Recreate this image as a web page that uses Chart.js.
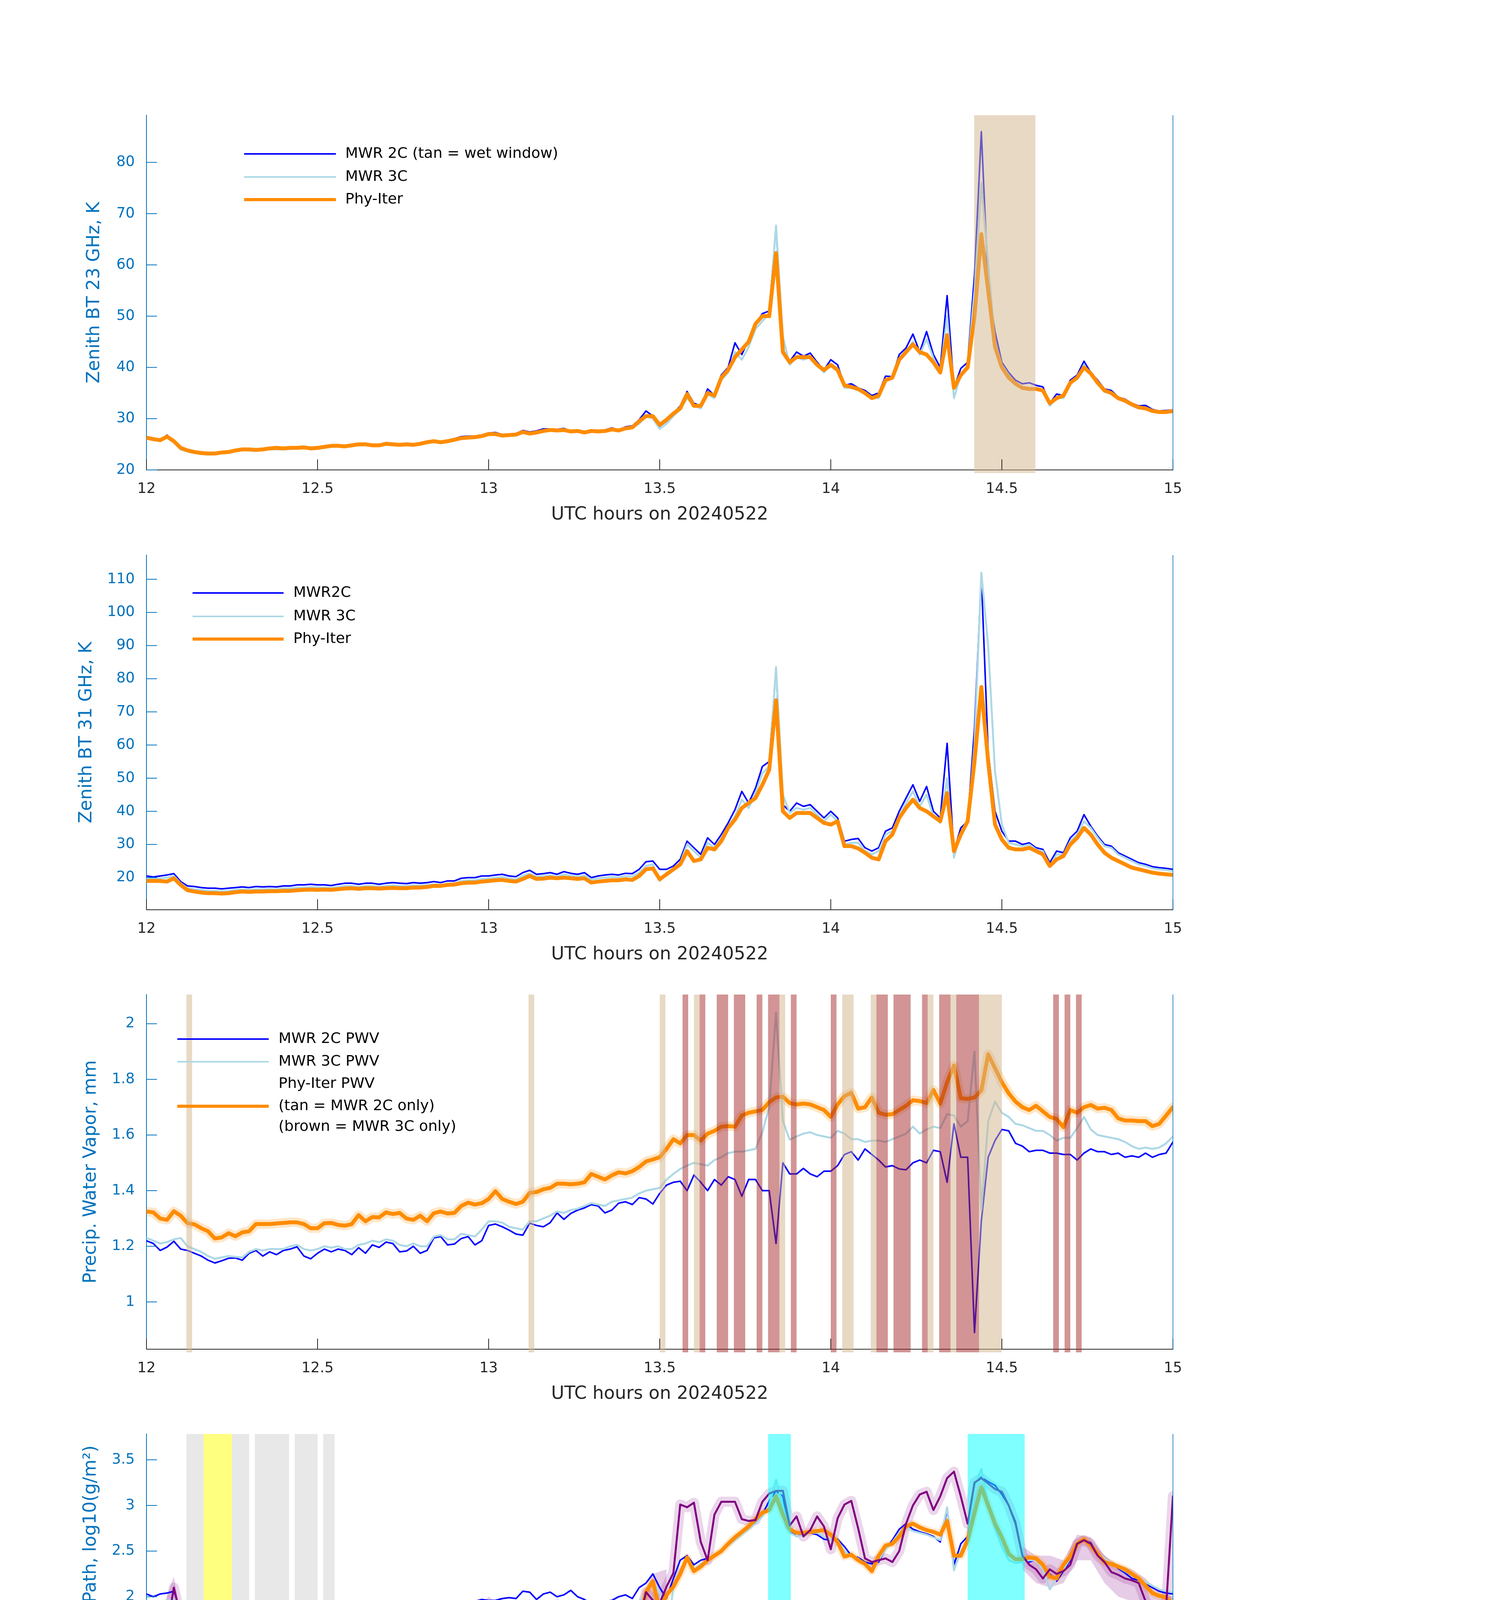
<!DOCTYPE html>
<html>
<head>
<meta charset="utf-8">
<title>MWR retrievals 20240522</title>
<script src="https://cdn.jsdelivr.net/npm/chart.js@4.4.1/dist/chart.umd.min.js"></script>
<style>
  html, body { margin: 0; padding: 0; background: #fff; }
  #page { position: relative; width: 3825px; height: 6000px; background: #fff; }
  #page canvas { position: absolute; left: 0; }
</style>
</head>
<body>
<div id="page">
  <canvas id="p1" width="3825" height="1125"></canvas>
  <canvas id="p2" width="3825" height="1125"></canvas>
  <canvas id="p3" width="3825" height="1125"></canvas>
  <canvas id="p4" width="3825" height="1125"></canvas>
  <canvas id="p5" width="3825" height="1125"></canvas>
</div>
<script>
(function () {
    'use strict';

    // ---------- data ----------
    // line series sampled every 0.02 h (72 s), 12:00 -> 15:00 UTC
    const hours = [];
    for (let i = 0; i <= 150; i++) hours.push(Math.round((12 + i * 0.02) * 100) / 100);
    // coarser grid for the uncertainty envelopes in the LWP panel
    const bandHours = [];
    for (let i = 0; i <= 75; i++) bandHours.push(Math.round((12 + i * 0.04) * 100) / 100);

    // zenith brightness temperature 23 GHz, K
    const bt23_2c = [
        26.5, 26.2, 25.8, 26.8, 25.6, 24.2, 23.8, 23.5, 23.3, 23.2,
        23.3, 23.5, 23.5, 23.8, 24.1, 24.0, 23.9, 24.1, 24.3, 24.3,
        24.2, 24.3, 24.4, 24.6, 24.2, 24.3, 24.6, 24.8, 24.8, 24.7,
        24.9, 25.1, 25.2, 24.9, 24.9, 25.3, 25.2, 25.0, 25.2, 25.0,
        25.3, 25.6, 25.8, 25.5, 25.8, 26.1, 26.5, 26.6, 26.6, 26.8,
        27.2, 27.3, 26.9, 27.0, 27.1, 27.7, 27.4, 27.6, 28.0, 28.0,
        27.9, 28.1, 27.6, 27.8, 27.5, 27.8, 27.7, 27.8, 28.2, 27.8,
        28.4, 28.6, 29.8, 31.5, 30.5, 28.5, 29.5, 31.0, 32.5, 35.3,
        33.0, 32.5, 35.8, 34.5, 38.5, 40.0, 44.8, 42.5, 45.5, 48.5,
        50.5, 51.0, 67.5, 43.5, 41.2, 43.0, 42.2, 42.8, 41.0, 39.5,
        41.5, 40.5, 36.5, 36.8, 36.0, 35.5, 34.5, 35.0, 38.3, 38.2,
        42.5, 43.8, 46.5, 43.0, 47.0, 42.5, 40.0, 54.0, 36.0, 39.8,
        41.0, 58.0, 86.0, 56.0, 47.0, 41.0, 39.0, 37.5, 36.8, 37.0,
        36.5, 36.2, 33.0, 34.8, 34.5, 37.5, 38.5, 41.2, 39.0, 37.5,
        35.8, 35.5, 34.2, 33.8, 33.0, 32.5, 32.6, 31.8, 31.5, 31.6,
        31.7
    ];
    const bt23_3c = [
        26.2, 26.0, 25.6, 26.5, 25.4, 24.0, 23.6, 23.3, 23.1, 23.0,
        23.1, 23.3, 23.3, 23.6, 23.9, 23.8, 23.7, 23.9, 24.0, 24.0,
        24.0, 24.1, 24.2, 24.3, 24.0, 24.1, 24.3, 24.5, 24.6, 24.5,
        24.6, 24.8, 24.9, 24.7, 24.7, 25.0, 24.9, 24.8, 25.0, 24.8,
        25.0, 25.3, 25.5, 25.2, 25.5, 25.8, 26.2, 26.3, 26.3, 26.5,
        26.9, 27.0, 26.6, 26.8, 26.8, 27.4, 27.1, 27.3, 27.6, 27.7,
        27.6, 27.8, 27.3, 27.5, 27.2, 27.5, 27.4, 27.5, 27.8, 27.6,
        28.0, 28.2, 29.0, 30.5, 30.0, 28.0, 29.0, 30.5, 31.8, 34.0,
        32.5, 32.0, 34.8, 34.0, 37.5, 39.0, 43.0, 41.5, 44.0, 47.5,
        49.0, 50.5, 67.7, 46.0, 40.5, 42.0, 41.5, 42.0, 40.5, 39.0,
        40.5, 39.8, 36.0, 36.0, 35.5, 35.0, 34.0, 34.0, 37.5, 37.8,
        41.8, 43.2, 45.0, 42.5, 45.5, 41.8, 39.0, 50.0, 34.0, 38.5,
        40.5, 55.0, 76.0, 60.0, 45.0, 40.5, 38.5, 37.0, 36.0, 35.8,
        35.6, 35.5, 32.5, 34.0, 34.0, 37.0, 38.0, 40.5, 38.5, 37.0,
        35.2, 35.0, 33.8, 33.3, 32.5, 32.0, 32.0, 31.4, 31.1, 31.2,
        31.3
    ];
    const bt23_phy = [
        26.3, 26.0, 25.8, 26.5, 25.6, 24.3, 23.8, 23.5, 23.3, 23.2,
        23.2, 23.4, 23.5, 23.8, 24.0, 24.0, 23.9, 24.0, 24.2, 24.3,
        24.2, 24.3, 24.3, 24.4, 24.2, 24.3, 24.5, 24.7, 24.7, 24.6,
        24.8, 25.0, 25.0, 24.8, 24.8, 25.1, 25.0, 24.9, 25.0, 24.9,
        25.1, 25.4, 25.6, 25.4, 25.6, 25.9, 26.2, 26.3, 26.4, 26.6,
        27.0, 27.0, 26.7, 26.8, 26.9, 27.4, 27.1, 27.3, 27.6, 27.8,
        27.7, 27.8, 27.5, 27.6, 27.3, 27.6, 27.5, 27.6, 27.9, 27.7,
        28.1, 28.3, 29.5, 30.5, 30.5, 28.8, 29.8, 31.0, 32.0, 34.8,
        32.5, 32.5, 35.0, 34.5, 38.0, 39.5, 42.0, 43.5, 45.0, 48.5,
        50.0, 50.0, 62.3, 43.0, 41.0, 42.0, 42.0, 42.0, 40.5, 39.5,
        40.5, 39.5, 36.5, 36.2, 35.8, 35.0, 34.0, 34.5, 37.5, 38.0,
        41.5, 43.0, 44.5, 43.0, 42.5, 41.0, 39.0, 46.3, 36.0, 38.5,
        40.0, 50.0, 66.0, 55.0, 44.0, 40.0, 38.0, 36.8, 36.0, 35.8,
        35.8, 35.5, 33.0, 34.0, 34.5, 37.0, 38.0, 40.0, 38.8, 37.0,
        35.5, 35.0, 34.0, 33.5, 32.8, 32.2, 32.0, 31.5, 31.3, 31.3,
        31.5
    ];

    // zenith brightness temperature 31 GHz, K
    const bt31_2c = [
        20.5, 20.2, 20.5, 20.8, 21.2, 18.8, 17.5, 17.3, 17.0, 16.8,
        16.8, 16.6, 16.8, 17.0, 17.2, 17.0, 17.3, 17.2, 17.3, 17.2,
        17.5, 17.5, 17.8, 17.8, 18.0, 17.8, 17.8, 17.6, 18.0, 18.3,
        18.3, 18.0, 18.3, 18.3, 18.0, 18.3, 18.5, 18.3, 18.2, 18.5,
        18.3, 18.5, 18.8, 18.5, 19.0, 19.0, 19.8, 20.0, 20.0, 20.5,
        20.5, 20.8, 21.0, 20.5, 20.3, 21.5, 22.2, 21.0, 21.2, 21.5,
        21.0, 21.8, 21.3, 21.0, 21.5, 20.0, 20.5, 20.8, 21.0, 20.8,
        21.3, 21.2, 22.5, 24.8, 25.0, 22.5, 22.5, 23.5, 25.5, 31.0,
        29.0, 27.0, 32.0, 30.0, 33.0, 36.5, 40.5, 46.0, 42.5, 47.0,
        53.5, 55.0, 83.0, 42.0, 40.0, 42.5, 41.5, 42.0, 40.0, 38.0,
        40.0, 38.0, 31.0, 31.5, 31.8, 29.0, 28.0, 29.0, 34.0, 35.0,
        40.0, 44.0, 48.0, 43.0, 47.5, 40.0, 38.0, 60.5, 28.0, 35.0,
        37.0, 65.0, 111.0, 58.0, 40.0, 34.0, 31.0, 31.0, 30.0, 30.5,
        29.0, 28.5, 24.5, 28.0, 27.5, 32.0, 34.0, 39.0, 35.5, 32.5,
        30.0, 29.5, 27.5, 26.5, 25.5, 24.5, 24.0, 23.3, 23.0, 22.8,
        22.5
    ];
    const bt31_3c = [
        19.8, 19.6, 19.8, 20.0, 20.5, 18.3, 16.8, 16.5, 16.3, 16.0,
        16.0, 15.9, 16.0, 16.3, 16.4, 16.3, 16.5, 16.5, 16.6, 16.5,
        16.8, 16.8, 17.0, 17.0, 17.2, 17.1, 17.0, 16.9, 17.2, 17.5,
        17.5, 17.2, 17.5, 17.5, 17.3, 17.5, 17.7, 17.5, 17.5, 17.7,
        17.6, 17.8, 18.0, 17.8, 18.2, 18.3, 19.0, 19.2, 19.2, 19.6,
        19.7, 20.0, 20.2, 19.8, 19.5, 20.6, 21.2, 20.3, 20.5, 20.7,
        20.3, 21.0, 20.6, 20.3, 20.7, 19.4, 19.8, 20.0, 20.2, 20.1,
        20.5, 20.4, 21.5, 23.5, 24.0, 19.0, 21.5, 22.5, 24.5, 30.0,
        28.0, 26.0, 30.5, 29.0, 32.0, 35.5, 38.5, 43.5, 41.0, 45.5,
        51.5, 53.5, 83.5, 45.0, 39.5, 41.0, 40.5, 41.0, 39.0, 37.0,
        39.0, 37.0, 30.0, 30.5, 30.5, 28.0, 27.0, 28.0, 33.0, 34.0,
        38.5, 42.5, 46.0, 41.5, 45.0, 38.5, 36.5, 50.0, 26.0, 33.5,
        36.5, 60.0, 112.0, 90.0, 52.0, 36.0, 30.5, 30.0, 29.5, 30.0,
        28.5, 28.0, 23.5, 27.0, 27.0, 31.0, 33.0, 37.0, 35.0, 32.0,
        29.5, 29.0, 27.0, 26.0, 25.0, 24.0, 23.5, 22.8, 22.5, 22.3,
        22.0
    ];
    const bt31_phy = [
        19.0, 19.0, 19.0, 18.8, 19.8, 17.8, 16.2, 15.8, 15.5, 15.3,
        15.3, 15.2, 15.3, 15.6, 15.8, 15.7, 15.8, 15.8, 15.9, 15.9,
        16.0, 16.0, 16.2, 16.3, 16.4, 16.3, 16.4, 16.3, 16.5, 16.7,
        16.8, 16.6, 16.8, 16.8, 16.7, 16.8, 16.9, 16.8, 16.8, 17.0,
        17.0, 17.2, 17.5, 17.5, 17.8, 17.9, 18.3, 18.5, 18.5, 18.8,
        19.0, 19.2, 19.3, 19.0, 18.8, 19.6, 20.5, 19.6, 19.7, 20.0,
        19.8, 20.0, 19.8, 19.6, 19.8, 18.5, 18.8, 19.0, 19.2, 19.2,
        19.5, 19.3, 20.5, 22.5, 22.8, 19.5, 21.0, 22.5, 24.0, 28.0,
        25.0, 25.5, 29.0, 28.5, 31.0, 35.0, 37.5, 41.0, 42.5, 44.0,
        48.0, 52.5, 73.5, 40.0, 38.0, 39.5, 39.5, 39.5, 38.0, 36.5,
        36.0, 37.0, 29.5, 29.5, 28.8, 27.5, 26.0, 25.5, 31.0, 33.0,
        38.0, 41.0, 43.5, 41.0, 40.0, 38.5, 37.0, 45.5, 28.0, 33.0,
        37.0, 55.0, 77.5, 55.0, 36.0, 31.5, 29.0, 28.5, 28.5, 29.0,
        28.0, 27.0, 23.5, 25.5, 26.5, 30.0, 32.0, 35.0, 33.0, 30.0,
        27.5, 26.0, 25.0, 24.0, 23.0, 22.5, 22.0, 21.5, 21.2, 21.0,
        20.8
    ];

    // precipitable water vapor, mm
    const pwv_2c = [
        1.22, 1.21, 1.185, 1.197, 1.218, 1.19, 1.185, 1.175, 1.165, 1.15,
        1.14, 1.148, 1.157, 1.158, 1.15, 1.175, 1.185, 1.165, 1.18, 1.17,
        1.185, 1.19, 1.198, 1.165, 1.155, 1.175, 1.19, 1.18, 1.19, 1.185,
        1.17, 1.195, 1.175, 1.205, 1.196, 1.215, 1.21, 1.18, 1.183, 1.20,
        1.175, 1.185, 1.23, 1.235, 1.205, 1.208, 1.228, 1.235, 1.205, 1.22,
        1.275, 1.28, 1.27, 1.258, 1.244, 1.24, 1.283, 1.275, 1.27, 1.285,
        1.32, 1.297, 1.318, 1.33, 1.338, 1.35, 1.345, 1.32, 1.33, 1.355,
        1.36, 1.35, 1.375, 1.37, 1.352, 1.39, 1.42, 1.43, 1.434, 1.40,
        1.456, 1.43, 1.40, 1.44, 1.42, 1.45, 1.44, 1.38, 1.44, 1.44,
        1.40, 1.40, 1.21, 1.50, 1.46, 1.46, 1.48, 1.46, 1.45, 1.47,
        1.47, 1.49, 1.53, 1.54, 1.51, 1.55, 1.53, 1.51, 1.485, 1.49,
        1.478, 1.475, 1.50, 1.51, 1.50, 1.545, 1.54, 1.43, 1.64, 1.52,
        1.52, 0.89, 1.29, 1.52, 1.58, 1.62, 1.615, 1.57, 1.56, 1.54,
        1.545, 1.545, 1.535, 1.535, 1.53, 1.53, 1.51, 1.535, 1.55, 1.54,
        1.54, 1.53, 1.535, 1.52, 1.525, 1.52, 1.535, 1.52, 1.53, 1.535,
        1.575
    ];
    const pwv_3c = [
        1.23, 1.22, 1.21, 1.215, 1.225, 1.23, 1.20, 1.19, 1.18, 1.165,
        1.155, 1.16, 1.165, 1.162, 1.16, 1.18, 1.19, 1.185, 1.19, 1.19,
        1.19, 1.20, 1.205, 1.19, 1.185, 1.19, 1.20, 1.195, 1.20, 1.19,
        1.19, 1.205, 1.21, 1.22, 1.215, 1.225, 1.22, 1.205, 1.20, 1.21,
        1.20, 1.20, 1.235, 1.24, 1.225, 1.225, 1.245, 1.24, 1.235, 1.26,
        1.29, 1.29, 1.285, 1.27, 1.265, 1.26, 1.29, 1.29, 1.30, 1.31,
        1.325, 1.32, 1.33, 1.335, 1.345, 1.355, 1.35, 1.345, 1.36, 1.365,
        1.37, 1.375, 1.39, 1.40, 1.405, 1.41, 1.44, 1.46, 1.478, 1.49,
        1.50, 1.495, 1.49, 1.51, 1.52, 1.535, 1.54, 1.54, 1.545, 1.55,
        1.61, 1.70, 2.04, 1.65, 1.583, 1.595, 1.605, 1.61, 1.60, 1.595,
        1.59, 1.615, 1.605, 1.585, 1.585, 1.575, 1.58, 1.58, 1.575, 1.585,
        1.595, 1.605, 1.63, 1.605, 1.62, 1.63, 1.625, 1.675, 1.67, 1.63,
        1.65, 1.90, 1.33, 1.65, 1.72, 1.68, 1.665, 1.64, 1.635, 1.625,
        1.615, 1.615, 1.60, 1.58, 1.59, 1.59, 1.625, 1.665, 1.62, 1.60,
        1.595, 1.59, 1.585, 1.575, 1.56, 1.55, 1.555, 1.55, 1.555, 1.57,
        1.595
    ];
    const pwv_phy = [
        1.325, 1.322, 1.30, 1.295, 1.326, 1.31, 1.283, 1.279, 1.265, 1.254,
        1.228, 1.232, 1.247, 1.236, 1.25, 1.254, 1.28, 1.28, 1.28, 1.282,
        1.284, 1.286, 1.286, 1.28, 1.265, 1.265, 1.283, 1.284, 1.277, 1.274,
        1.28, 1.312, 1.29, 1.305, 1.304, 1.322, 1.316, 1.32, 1.30, 1.295,
        1.31, 1.29, 1.319, 1.325, 1.318, 1.32, 1.345, 1.357, 1.35, 1.355,
        1.37, 1.398, 1.37, 1.36, 1.352, 1.36, 1.392, 1.395, 1.405, 1.41,
        1.425, 1.425, 1.423, 1.425, 1.43, 1.46, 1.45, 1.44, 1.455, 1.466,
        1.462, 1.47, 1.485, 1.505, 1.512, 1.52, 1.55, 1.585, 1.57, 1.60,
        1.60, 1.58, 1.605, 1.615, 1.63, 1.632, 1.63, 1.67, 1.68, 1.685,
        1.69, 1.718, 1.735, 1.738, 1.715, 1.71, 1.713, 1.71, 1.70, 1.69,
        1.665, 1.71, 1.74, 1.752, 1.695, 1.70, 1.735, 1.68, 1.673, 1.675,
        1.69, 1.705, 1.725, 1.722, 1.715, 1.762, 1.713, 1.79, 1.85, 1.732,
        1.73, 1.735, 1.76, 1.89, 1.84, 1.79, 1.75, 1.72, 1.70, 1.69,
        1.705, 1.685, 1.665, 1.658, 1.628, 1.69, 1.68, 1.70, 1.708, 1.695,
        1.698, 1.69, 1.66, 1.652, 1.652, 1.65, 1.65, 1.632, 1.64, 1.67,
        1.70
    ];

    // log10 liquid water path, log10(g/m2); -0.3 = below the axis (log of ~0)
    const lwp_2c = [
        2.03, 2.00, 2.03, 2.04, 2.06, 1.85, 1.70, 1.69, 1.66, 1.64,
        1.65, 1.64, 1.63, 1.60, 1.66, 1.63, 1.66, 1.66, 1.69, 1.68,
        1.70, 1.70, 1.73, 1.74, 1.78, 1.74, 1.75, 1.72, 1.73, 1.76,
        1.80, 1.76, 1.80, 1.76, 1.80, 1.77, 1.80, 1.79, 1.80, 1.80,
        1.80, 1.80, 1.83, 1.85, 1.86, 1.88, 1.90, 1.93, 1.95, 1.97,
        1.96, 1.96, 1.98, 1.99, 1.98, 2.06, 2.05, 1.97, 2.03, 2.05,
        2.00, 2.02, 2.07, 2.00, 1.97, 1.92, 1.93, 1.95, 1.96, 2.00,
        2.02, 1.98, 2.10, 2.15, 2.25, 2.10, 1.98, 2.20, 2.40, 2.45,
        2.35, 2.40, 2.42, 2.45, 2.50, 2.57, 2.62, 2.68, 2.75, 2.82,
        2.90, 3.05, 3.16, 3.10, 2.72, 2.66, 2.68, 2.70, 2.68, 2.63,
        2.62, 2.63, 2.55, 2.45, 2.43, 2.38, 2.36, 2.38, 2.52, 2.62,
        2.74, 2.80, 2.74, 2.71, 2.69, 2.66, 2.60, 2.95, 2.35, 2.58,
        2.66, 3.25, 3.31, 3.26, 3.22, 3.12, 3.00, 2.82, 2.45, 2.38,
        2.41, 2.33, 2.25, 2.17, 2.28, 2.40, 2.60, 2.63, 2.59, 2.48,
        2.42, 2.36, 2.31, 2.26, 2.20, 2.18, 2.14, 2.10, 2.06, 2.04,
        2.03
    ];
    const lwp_3c = [
        1.95, 1.93, 1.94, 1.96, 1.97, 1.80, null, 1.45, 1.15, 1.12,
        1.10, 1.07, 1.07, 1.08, 1.05, 1.15, 1.24, 1.18, 1.22, 1.20,
        1.25, 1.20, 1.35, 1.33, 1.40, 1.46, 1.42, 1.47, 1.40, 1.40,
        1.46, 1.52, 1.56, 1.55, 1.53, 1.57, 1.59, 1.53, 1.56, 1.58,
        1.55, 1.60, 1.62, 1.63, 1.65, 1.62, 1.68, 1.72, 1.75, 1.78,
        1.80, 1.84, 1.85, 1.88, 1.84, 1.92, 1.96, 1.86, 1.90, 1.93,
        1.96, 1.93, 1.95, 1.90, 1.85, 1.80, 1.80, 1.82, 1.85, 1.86,
        1.88, 1.88, 1.95, 2.05, 2.15, 2.05, 1.54, 2.10, 2.30, 2.42,
        2.30, 2.36, 2.40, 2.44, 2.50, 2.56, 2.62, 2.68, 2.74, 2.80,
        2.88, 3.00, 3.28, 3.00, 2.70, 2.66, 2.67, 2.70, 2.70, 2.66,
        2.62, 2.62, 2.50, 2.44, 2.42, 2.35, 2.32, 2.40, 2.52, 2.60,
        2.70, 2.76, 2.72, 2.70, 2.68, 2.65, 2.62, 2.98, 2.29, 2.50,
        2.62, 3.20, 3.40, 3.00, 2.75, 2.55, 2.40, 2.37, 2.38, 2.40,
        2.40, 2.30, 2.08, 2.20, 2.30, 2.42, 2.60, 2.62, 2.58, 2.48,
        2.42, 2.37, 2.32, 2.28, 2.24, 2.20, 2.16, 2.12, 2.08, 2.06,
        2.05
    ];
    const lwp_phy = [
        1.88, 1.84, 1.85, 1.87, 1.87, 1.63, 1.10, 0.77, 0.32, null,
        null, null, null, null, -0.3, 0.58, 0.12, 0.48, -0.3, -0.3,
        0.70, 0.88, 0.90, 1.10, 1.22, 1.15, 1.17, 1.17, 1.05, 1.28,
        1.29, 1.34, 1.23, 1.23, 1.33, 1.31, 1.28, 1.26, 1.36, 1.45,
        1.33, 1.42, 1.47, 1.51, 1.52, 1.54, 1.60, 1.66, 1.73, 1.76,
        1.77, 1.79, 1.80, 1.78, 1.73, 1.80, 1.91, 1.81, 1.83, 1.86,
        1.91, 1.88, 1.87, 1.87, 1.84, 1.63, 1.66, 1.69, 1.71, 1.735,
        1.74, 1.75, 1.75, 2.05, 2.17, 1.84, 2.02, 2.11, 2.25, 2.43,
        2.28, 2.33, 2.40, 2.45, 2.50, 2.58, 2.65, 2.71, 2.77, 2.85,
        2.92, 2.95, 3.10, 2.90, 2.74, 2.70, 2.70, 2.71, 2.72, 2.73,
        2.68, 2.60, 2.44, 2.46, 2.40, 2.36, 2.28, 2.45, 2.56, 2.58,
        2.66, 2.77, 2.80, 2.76, 2.73, 2.71, 2.68, 2.83, 2.45, 2.45,
        2.62, 2.92, 3.20, 3.00, 2.80, 2.65, 2.47, 2.41, 2.41, 2.43,
        2.42, 2.35, 2.22, 2.20, 2.35, 2.44, 2.58, 2.63, 2.56, 2.47,
        2.38, 2.36, 2.33, 2.30, 2.25, 2.20, 2.12, 2.04, 2.01, 1.99,
        1.92
    ];
    const lwp_adiabatic = [
        1.62, 1.59, 1.56, 1.65, 2.10, 1.78, 1.03, 1.05, 1.07, null,
        null, null, 1.04, 1.04, 1.04, 1.11, 1.04, 1.04, 1.04, 1.04,
        1.04, 1.11, 1.04, 1.04, 1.04, 1.11, 1.04, 1.04, 1.05, 1.36,
        1.34, 1.34, 1.36, 1.35, 1.39, 1.39, 1.42, 1.33, 1.20, 1.39,
        1.43, 1.45, 1.42, 1.39, 1.48, 1.45, 1.48, 1.51, 1.60, 1.75,
        1.84, 1.70, 1.66, 1.69, 1.66, 1.68, 1.57, 1.42, 1.72, 1.70,
        1.69, 1.69, 1.69, 1.81, 1.70, 1.60, 1.64, 1.68, 1.71, 1.73,
        1.74, 1.75, 1.75, 2.05, 1.96, 1.93, 2.11, 2.26, 3.01, 2.98,
        3.03, 2.60, 2.40, 2.90, 3.04, 3.04, 3.04, 2.85, 2.83, 2.84,
        3.04, 3.13, 3.16, 3.16, 2.78, 2.88, 2.66, 2.73, 2.88, 2.77,
        2.52, 2.86, 3.01, 3.05, 2.75, 2.42, 2.38, 2.40, 2.42, 2.38,
        2.50, 2.80, 3.00, 3.12, 3.15, 2.95, 3.10, 3.30, 3.37, 3.10,
        2.80, 3.25, 3.30, 3.24, 3.18, 3.15, 3.00, 2.80, 2.45, 2.35,
        2.30, 2.20, 2.30, 2.25, 2.28, 2.35, 2.58, 2.62, 2.58, 2.45,
        2.38, 2.27, 2.24, 2.20, 2.18, 2.15, 1.95, 1.86, 1.90, 1.88,
        3.10
    ];
    // uncertainty envelopes on bandHours (null = no envelope)
    const adiabaticLo = [
        1.35, 1.28, 1.45, 0.44, 0.44, null, 0.44, 0.44, 0.44, 0.44,
        0.44, 0.44, 0.44, 0.44, 0.44, 1.05, 1.05, 1.00, 0.85, 0.72,
        1.05, 1.10, 1.05, 1.10, 1.20, 1.50, 1.35, 1.40, 1.15, 1.35,
        1.40, 1.45, 1.30, 1.25, 1.40, 1.55, 1.60, 1.75, 1.85, null,
        null, null, null, null, null, null, null, null, null, null,
        null, null, null, null, null, null, null, null, null, null,
        null, null, null, null, 2.30, 2.15, 2.10, 2.15, 2.40, 2.40,
        2.15, 2.00, 1.95, 1.70, 1.65, 1.70
    ];
    const adiabaticHi = [
        1.85, 1.80, 2.22, 1.41, 1.41, null, 1.41, 1.41, 1.41, 1.41,
        1.41, 1.41, 1.41, 1.41, 1.41, 1.62, 1.60, 1.62, 1.65, 1.60,
        1.70, 1.70, 1.72, 1.76, 1.85, 2.00, 1.90, 1.85, 1.85, 1.95,
        1.90, 1.95, 1.95, 1.85, 1.90, 1.92, 1.95, 2.25, 2.30, null,
        null, null, null, null, null, null, null, null, null, null,
        null, null, null, null, null, null, null, null, null, null,
        null, null, null, null, 2.55, 2.45, 2.45, 2.40, 2.68, 2.65,
        2.45, 2.35, 2.30, 2.20, 2.05, 2.00
    ];
    const phyLo = [
        null, null, null, -0.3, -0.3, null, -0.3, -0.3, -0.3, -0.3,
        -0.3, 0.45, 0.60, 0.55, 0.55, 1.05, 1.05, 1.10, 1.05, 1.00,
        1.15, 1.25, 1.30, 1.40, 1.55, 1.65, null, null, null, null,
        null, null, null, null, null, null, null, null, null, null,
        null, null, null, null, null, null, null, null, null, null,
        null, null, null, null, null, null, null, null, null, null,
        null, null, null, null, null, null, null, null, null, null,
        null, null, null, null, null, null
    ];
    const phyHi = [
        null, null, null, 1.40, 1.40, null, 1.40, 1.40, 1.40, 1.40,
        1.40, 1.30, 1.40, 1.40, 1.40, 1.45, 1.50, 1.55, 1.50, 1.55,
        1.60, 1.65, 1.70, 1.75, 1.85, 1.85, null, null, null, null,
        null, null, null, null, null, null, null, null, null, null,
        null, null, null, null, null, null, null, null, null, null,
        null, null, null, null, null, null, null, null, null, null,
        null, null, null, null, null, null, null, null, null, null,
        null, null, null, null, null, null
    ];

    // Phy-Iter DQ flag bits, one retrieval every 0.0145 h starting 12.006
    const dqStart = 12.006, dqStep = 0.0145;
    const dqFlags = [
        0, 0, 0, 0, 0, 0, 0, 0, 4, 4,
        4, 5, 5, 5, 5, 5, null, 4, 4, 4,
        0, null, 4, 4, 4, 4, 4, 4, null, 0,
        4, 4, 4, 4, null, 0, 4, 4, 0, 0,
        0, 0, 0, 0, 0, 0, 0, 0, 0, 0,
        0, 0, 0, 0, 0, 0, 0, 0, 0, 0,
        0, 0, 0, 0, 0, 0, 0, 0, 0, 0,
        0, 0, 0, 0, 0, 0, 0, 0, 0, 0,
        0, 0, 0, 0, 0, 0, 0, 0, 0, 0,
        0, 0, 0, 0, 0, 0, 0, 0, 0, 0,
        0, 0, 0, 0, 0, 0, 0, 0, 0, 6,
        0, 0, 0, 0, 0, 0, 0, 0, 0, 0,
        0, 0, 0, 0, 0, [6, 10, 11], [6, 9, 10, 11], [10, 11], [11], null,
        0, 0, 0, 0, 0, 0, 0, 0, 0, 0,
        0, 0, 0, 0, 0, 0, 0, 0, 0, 0,
        0, 0, 0, 0, 0, 0, 0, 0, 0, 0,
        0, 0, 0, 0, 0, 0, [10, 11], [9, 10, 11], [6, 9, 10, 11], [6, 9, 11],
        [9, 11], 11, 11, 11, 11, 11, 11, 0, 0, 0,
        0, 0, 0, 0, 0, 0, 0, 0, 0, 0,
        0, 0, 0, 0, 0, 0, 0, 0, 0, 0,
        0, 0, 0, 0, 0, 0, 0
    ];

    // shaded time windows, hours
    const wetWindow = [[14.419, 14.598]];
    const tan2cOnly = [[12.1167, 12.1333], [13.1167, 13.1333], [13.5, 13.5167], [13.6, 13.6167],
        [13.85, 13.8667], [14.0333, 14.0667], [14.1167, 14.1333], [14.2833, 14.3],
        [14.35, 14.3667], [14.4333, 14.5]];
    const brown3cOnly = [[13.5667, 13.5833], [13.6167, 13.6333], [13.6667, 13.7], [13.7167, 13.75],
        [13.7833, 13.8], [13.8167, 13.85], [13.8833, 13.9], [14.0, 14.0167],
        [14.1333, 14.1667], [14.1833, 14.2333], [14.2667, 14.2833], [14.3167, 14.35],
        [14.3667, 14.4333], [14.65, 14.6667], [14.6833, 14.7], [14.7167, 14.7333]];
    const grayLwp = [[12.1167, 12.1667], [12.25, 12.3], [12.3167, 12.4167], [12.4333, 12.5], [12.5167, 12.55]];
    const yellowLwp = [[12.1667, 12.25]];
    const cyanLwp = [[13.8167, 13.8833], [14.4, 14.5667]];

    // ---------- styling ----------
    const BLUE = '#0000FF';
    const LIGHT = '#ADD8E6';
    const ORANGE = '#FF8C00';
    const PURPLE = '#800080';
    const AXIS = '#0072BD';
    const DARK = '#262626';
    const NONE = 'rgba(0,0,0,0)';
    const TAN = 'rgba(210,180,140,0.5)';
    const BROWN = 'rgba(165,42,42,0.5)';

    Chart.defaults.font.family = "'DejaVu Sans', sans-serif";

    const fmt = v => String(Math.round(v * 100) / 100);

    function line(ys, color, width, order) {
        return {
            data: hours.map((x, i) => ({ x: x, y: ys[i] })),
            borderColor: color, borderWidth: width, pointRadius: 0, fill: false,
            borderJoinStyle: 'round', borderCapStyle: 'round',
            spanGaps: false, clip: 0, order: order,
        };
    }

    function envelope(ys, color, order, fill) {
        return {
            data: bandHours.map((x, i) => ({ x: x, y: ys[i] })),
            borderColor: NONE, borderWidth: 1, pointRadius: 0,
            backgroundColor: color, fill: fill, spanGaps: false, clip: 0, order: order,
        };
    }

    function bandPlugin(sets) {
        return {
            id: 'timeBands',
            afterDatasetsDraw(chart) {
                const { ctx, chartArea: a, scales: { x } } = chart;
                ctx.save();
                sets.forEach(s => {
                    ctx.fillStyle = s.color;
                    s.ranges.forEach(r => {
                        const x0 = x.getPixelForValue(r[0]);
                        const x1 = x.getPixelForValue(r[1]);
                        ctx.fillRect(x0, a.top, x1 - x0, a.bottom - a.top + (s.below || 0));
                    });
                });
                ctx.restore();
            }
        };
    }

    // inward ticks and the thin right-hand edge, like the original axes
    const axesPlugin = {
        id: 'axesDecor',
        afterDraw(chart) {
            const { ctx, chartArea: a, scales: { x, y } } = chart;
            ctx.save();
            ctx.lineWidth = 2;
            ctx.strokeStyle = AXIS;
            y.ticks.forEach(t => {
                const py = y.getPixelForValue(t.value);
                ctx.beginPath(); ctx.moveTo(a.left, py); ctx.lineTo(a.left + 27, py); ctx.stroke();
            });
            ctx.strokeStyle = DARK;
            x.ticks.forEach(t => {
                const px = x.getPixelForValue(t.value);
                ctx.beginPath(); ctx.moveTo(px, a.bottom); ctx.lineTo(px, a.bottom - 27); ctx.stroke();
            });
            ctx.strokeStyle = 'rgba(0,114,189,0.8)';
            ctx.beginPath(); ctx.moveTo(a.right, a.top); ctx.lineTo(a.right, a.bottom); ctx.stroke();
            ctx.restore();
        }
    };

    function legendPlugin(lg, top0) {
        return {
            id: 'lineLegend',
            afterDraw(chart) {
                const ctx = chart.ctx;
                ctx.save();
                ctx.font = "38px 'DejaVu Sans'";
                ctx.textAlign = 'left';
                ctx.textBaseline = 'middle';
                lg.rows.forEach(r => {
                    const yy = r.y - top0;
                    if (r.color) {
                        ctx.strokeStyle = r.color;
                        ctx.lineWidth = r.width;
                        ctx.beginPath(); ctx.moveTo(lg.x0, yy); ctx.lineTo(lg.x1, yy); ctx.stroke();
                    }
                    ctx.fillStyle = '#000';
                    ctx.fillText(r.label, lg.tx, yy);
                });
                ctx.restore();
            }
        };
    }

    function makePanel(id, plotTop, o) {
        const canvas = document.getElementById(id);
        const top0 = plotTop - 60;
        canvas.style.top = top0 + 'px';
        return new Chart(canvas, {
            type: 'line',
            data: { datasets: o.datasets },
            options: {
                responsive: false,
                animation: false,
                devicePixelRatio: 1,
                events: [],
                layout: { padding: { top: 60, left: 175, right: 822, bottom: 7 } },
                plugins: { legend: { display: false }, tooltip: { enabled: false } },
                scales: {
                    x: {
                        type: 'linear', min: 12, max: 15, z: 1,
                        grid: { display: false, drawTicks: false },
                        border: { display: true, color: DARK, width: 2 },
                        ticks: { stepSize: 0.5, color: DARK, font: { size: 37 }, padding: 27,
                            callback: fmt, maxRotation: 0, autoSkip: false },
                        title: { display: true, text: 'UTC hours on 20240522', color: DARK,
                            font: { size: 46 }, padding: { top: 0, bottom: 7 } },
                        afterFit: s => { s.height = 150; }
                    },
                    y: {
                        type: 'linear', min: o.yMin, max: o.yMax, z: 1,
                        grid: { display: false, drawTicks: false },
                        border: { display: true, color: AXIS, width: 2 },
                        ticks: { stepSize: o.yStep, color: AXIS, font: { size: 37 }, padding: 30,
                            callback: fmt, includeBounds: false, autoSkip: false, maxTicksLimit: 40 },
                        title: { display: true, text: o.yTitle, color: AXIS, font: { size: 46 },
                            padding: { top: o.titlePad, bottom: 0 } },
                        afterFit: s => { s.width = 200; }
                    }
                }
            },
            plugins: [bandPlugin(o.bands || []), axesPlugin, legendPlugin(o.legend, top0)]
        });
    }

    // ---------- panel 1: 23 GHz ----------
    makePanel('p1', 295, {
        yMin: 20, yMax: 89.2, yStep: 10, yTitle: 'Zenith BT 23 GHz, K', titlePad: 39,
        datasets: [
            line(bt23_phy, ORANGE, 10, 0),
            line(bt23_3c, LIGHT, 5, 1),
            line(bt23_2c, BLUE, 4, 2),
        ],
        bands: [{ ranges: wetWindow, color: TAN, below: 8 }],
        legend: { x0: 625, x1: 860, tx: 884, rows: [
            { label: 'MWR 2C (tan = wet window)', color: BLUE, width: 4, y: 394 },
            { label: 'MWR 3C', color: LIGHT, width: 4, y: 453 },
            { label: 'Phy-Iter', color: ORANGE, width: 8, y: 511 },
        ] }
    });

    // ---------- panel 2: 31 GHz ----------
    makePanel('p2', 1421, {
        yMin: 10.3, yMax: 117.3, yStep: 10, yTitle: 'Zenith BT 31 GHz, K', titlePad: 19,
        datasets: [
            line(bt31_phy, ORANGE, 10, 0),
            line(bt31_3c, LIGHT, 5, 1),
            line(bt31_2c, BLUE, 4, 2),
        ],
        legend: { x0: 493, x1: 726, tx: 751, rows: [
            { label: 'MWR2C', color: BLUE, width: 4, y: 1518 },
            { label: 'MWR 3C', color: LIGHT, width: 4, y: 1578 },
            { label: 'Phy-Iter', color: ORANGE, width: 8, y: 1636 },
        ] }
    });

    // ---------- panel 3: PWV ----------
    makePanel('p3', 2546, {
        yMin: 0.83, yMax: 2.105, yStep: 0.2, yTitle: 'Precip. Water Vapor, mm', titlePad: 30,
        datasets: [
            line(pwv_phy, ORANGE, 10, 0),
            line(pwv_3c, LIGHT, 5, 1),
            line(pwv_2c, BLUE, 4, 2),
            line(pwv_phy, 'rgba(255,140,0,0.22)', 24, 3),
        ],
        bands: [{ ranges: tan2cOnly, color: TAN, below: 8 }, { ranges: brown3cOnly, color: BROWN, below: 8 }],
        legend: { x0: 454, x1: 688, tx: 713, rows: [
            { label: 'MWR 2C PWV', color: BLUE, width: 4, y: 2660 },
            { label: 'MWR 3C PWV', color: LIGHT, width: 4, y: 2718 },
            { label: 'Phy-Iter PWV', y: 2775 },
            { label: '(tan = MWR 2C only)', color: ORANGE, width: 8, y: 2832 },
            { label: '(brown = MWR 3C only)', y: 2885 },
        ] }
    });

    // ---------- panel 4: LWP ----------
    makePanel('p4', 3671, {
        yMin: -0.103, yMax: 3.783, yStep: 0.5, yTitle: 'log10 Liquid Water Path, log10(g/m\u00B2)', titlePad: 30,
        datasets: [
            line(lwp_adiabatic, PURPLE, 5, 0),
            line(lwp_phy, ORANGE, 10, 1),
            line(lwp_3c, LIGHT, 5, 2),
            line(lwp_2c, BLUE, 4, 3),
            line(lwp_adiabatic, 'rgba(128,0,128,0.16)', 26, 4),
            line(lwp_phy, 'rgba(255,140,0,0.2)', 20, 5),
            envelope(adiabaticHi, 'rgba(128,0,128,0.2)', 6, '+1'),
            envelope(adiabaticLo, NONE, 7, false),
            envelope(phyHi, 'rgba(255,140,0,0.25)', 8, '+1'),
            envelope(phyLo, NONE, 9, false),
        ],
        bands: [
            { ranges: grayLwp, color: 'rgba(190,190,190,0.35)' },
            { ranges: yellowLwp, color: 'rgba(255,255,0,0.5)' },
            { ranges: cyanLwp, color: 'rgba(0,255,255,0.5)' },
        ],
        legend: { x0: 2300, x1: 2534, tx: 2560, rows: [
            { label: 'MWR 2C LWP', color: BLUE, width: 4, y: 4339 },
            { label: 'MWR 3C LWP', color: LIGHT, width: 4, y: 4396 },
            { label: 'Phy-Iter LWP', color: ORANGE, width: 8, y: 4454 },
            { label: 'Adiabatic LWP', color: PURPLE, width: 4, y: 4512 },
        ] }
    });

    // ---------- panel 5: DQ flags ----------
    const dqPoints = [];
    dqFlags.forEach((f, k) => {
        if (f === null) return;
        const t = Math.round((dqStart + k * dqStep) * 10000) / 10000;
        (Array.isArray(f) ? f : [f]).forEach(v => dqPoints.push({ x: t, y: v }));
    });
    makePanel('p5', 4795, {
        yMin: -0.5, yMax: 11.53, yStep: 2, yTitle: 'MWR Phy Iter DQ Flag', titlePad: 39,
        datasets: [{
            data: dqPoints, showLine: false, pointRadius: 5, pointStyle: 'circle',
            pointBackgroundColor: ORANGE, pointBorderWidth: 0, borderColor: ORANGE, clip: 10,
        }],
        legend: { rows: [] }
    });
})();
</script>
</body>
</html>
